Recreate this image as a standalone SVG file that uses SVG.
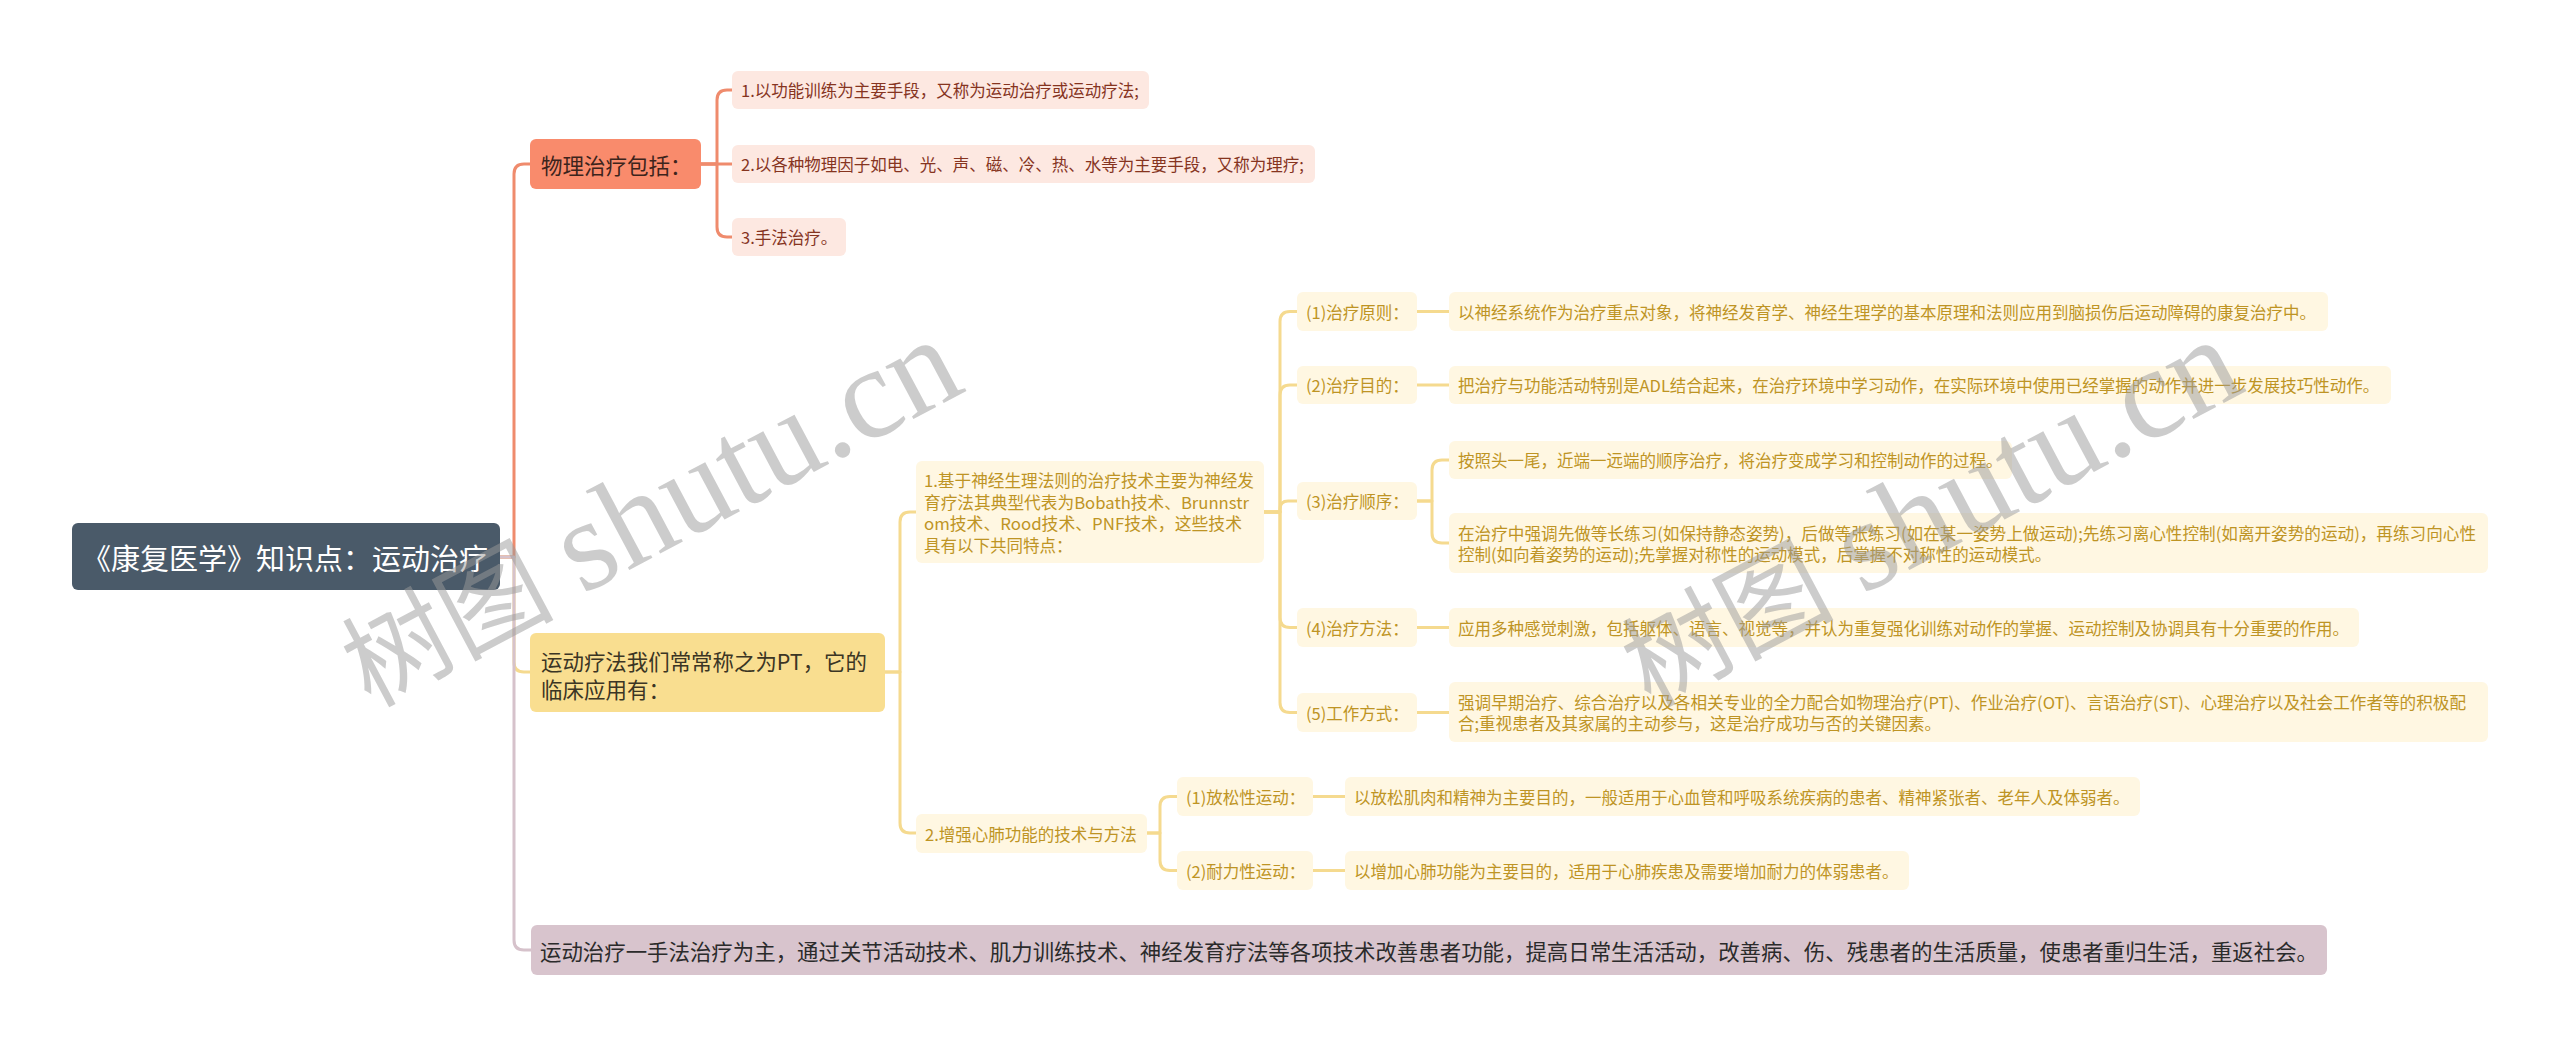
<svg xmlns="http://www.w3.org/2000/svg" width="2560" height="1046" viewBox="0 0 2560 1046">
<style>
text{font-family:"Noto Sans CJK SC","Noto Sans",sans-serif;dominant-baseline:central}
.root{fill:#4A5A69}
.rt{fill:#ffffff;font-size:29px}
.p1{fill:#F98B6C}
.p1t{fill:#3d241c;font-size:21.5px}
.o2{fill:#FDE8E1}
.o2t{fill:#86341F;font-size:16.5px}
.y1{fill:#F9DE90}
.y1t{fill:#3b3524;font-size:21.5px}
.y2{fill:#FFF7E2}
.y2t{fill:#BE9424;font-size:16.5px}
.m1{fill:#D8C4CD}
.m1t{fill:#2b2b2b;font-size:21.5px}
.c{fill:none;stroke-width:3;stroke-linecap:round;stroke-linejoin:round}
.co{stroke:#EF8B6D}
.cy{stroke:#F5DA8F}
.cm{stroke:#D6C2CB}
.wm{fill:#9a9a9a;fill-opacity:0.5;font-family:"Liberation Serif","Noto Sans CJK SC",serif;dominant-baseline:auto}
</style>
<rect width="2560" height="1046" fill="#ffffff"/>
<g id="connectors">
<path class="c cy" d="M500,557 H514 V662 Q514,672 524,672 H530"/>
<path class="c co" d="M500,557 H514 V174 Q514,164 524,164 H530"/>
<path class="c cm" d="M500,557 H514 V940 Q514,950 524,950 H531"/>
<path class="c co" d="M701,164 H732"/>
<path class="c co" d="M701,164 H717 V100 Q717,90 727,90 H732"/>
<path class="c co" d="M701,164 H717 V227 Q717,237 727,237 H732"/>
<path class="c cy" d="M885,672 H900 V522 Q900,512 910,512 H916"/>
<path class="c cy" d="M885,672 H900 V823 Q900,833 910,833 H916"/>
<path class="c cy" d="M1264,512 H1280 V321.5 Q1280,311.5 1290,311.5 H1297"/>
<path class="c cy" d="M1264,512 H1280 V395 Q1280,385 1290,385 H1297"/>
<path class="c cy" d="M1264,512 H1280 V509 Q1280,501 1288,501 H1297"/>
<path class="c cy" d="M1264,512 H1280 V617.5 Q1280,627.5 1290,627.5 H1297"/>
<path class="c cy" d="M1264,512 H1280 V702.5 Q1280,712.5 1290,712.5 H1297"/>
<path class="c cy" d="M1417,311.5 H1449"/>
<path class="c cy" d="M1417,385 H1449"/>
<path class="c cy" d="M1417,501 H1432 V470 Q1432,460 1442,460 H1449"/>
<path class="c cy" d="M1417,501 H1432 V533 Q1432,543 1442,543 H1449"/>
<path class="c cy" d="M1417,627.5 H1449"/>
<path class="c cy" d="M1417,712.5 H1449"/>
<path class="c cy" d="M1147,833 H1160 V806.5 Q1160,796.5 1170,796.5 H1177"/>
<path class="c cy" d="M1147,833 H1160 V860.5 Q1160,870.5 1170,870.5 H1177"/>
<path class="c cy" d="M1313,796.5 H1345"/>
<path class="c cy" d="M1313,870.5 H1345"/>
</g>
<g id="root"><rect class="root" x="72" y="523" width="428" height="67" rx="6"/><text class="rt" x="82" y="557">《康复医学》知识点：运动治疗</text></g>
<g id="n-physio"><rect class="p1" x="530" y="139" width="171" height="50" rx="6"/><text class="p1t" x="541" y="164">物理治疗包括：</text></g>
<g id="n-physio-1"><rect class="o2" x="732" y="71" width="417" height="38" rx="6"/><text class="o2t" x="741" y="90">1.以功能训练为主要手段，又称为运动治疗或运动疗法;</text></g>
<g id="n-physio-2"><rect class="o2" x="732" y="145" width="583" height="38" rx="6"/><text class="o2t" x="741" y="164">2.以各种物理因子如电、光、声、磁、冷、热、水等为主要手段，又称为理疗;</text></g>
<g id="n-physio-3"><rect class="o2" x="732" y="218" width="114" height="38" rx="6"/><text class="o2t" x="741" y="237">3.手法治疗。</text></g>
<g id="n-pt"><rect class="y1" x="530" y="633" width="355" height="79" rx="6"/><text class="y1t" x="541" y="660" textLength="326" lengthAdjust="spacingAndGlyphs">运动疗法我们常常称之为PT，它的</text><text class="y1t" x="541" y="688">临床应用有：</text></g>
<g id="n-neuro"><rect class="y2" x="916" y="461" width="348" height="102" rx="6"/>
<text class="y2t" x="924" y="480" textLength="330" lengthAdjust="spacingAndGlyphs">1.基于神经生理法则的治疗技术主要为神经发</text>
<text class="y2t" x="924" y="502" textLength="325" lengthAdjust="spacingAndGlyphs">育疗法其典型代表为Bobath技术、Brunnstr</text>
<text class="y2t" x="924" y="523" textLength="318" lengthAdjust="spacingAndGlyphs">om技术、Rood技术、PNF技术，这些技术</text>
<text class="y2t" x="924" y="545">具有以下共同特点：</text></g>
<g id="n-cardio"><rect class="y2" x="916" y="814" width="231" height="39" rx="6"/><text class="y2t" x="925" y="833.5">2.增强心肺功能的技术与方法</text></g>
<g id="n-l1"><rect class="y2" x="1297" y="292" width="120" height="39" rx="6"/><text class="y2t" x="1306" y="311.5">(1)治疗原则：</text></g>
<g id="n-l2"><rect class="y2" x="1297" y="366" width="120" height="38" rx="6"/><text class="y2t" x="1306" y="385">(2)治疗目的：</text></g>
<g id="n-l3"><rect class="y2" x="1297" y="482" width="120" height="38" rx="6"/><text class="y2t" x="1306" y="501">(3)治疗顺序：</text></g>
<g id="n-l4"><rect class="y2" x="1297" y="608" width="120" height="39" rx="6"/><text class="y2t" x="1306" y="627.5">(4)治疗方法：</text></g>
<g id="n-l5"><rect class="y2" x="1297" y="693" width="120" height="39" rx="6"/><text class="y2t" x="1306" y="712.5">(5)工作方式：</text></g>
<g id="n-f1"><rect class="y2" x="1449" y="292" width="879" height="39" rx="6"/><text class="y2t" x="1458" y="311.5">以神经系统作为治疗重点对象，将神经发育学、神经生理学的基本原理和法则应用到脑损伤后运动障碍的康复治疗中。</text></g>
<g id="n-f2"><rect class="y2" x="1449" y="366" width="942" height="38" rx="6"/><text class="y2t" x="1458" y="385">把治疗与功能活动特别是ADL结合起来，在治疗环境中学习动作，在实际环境中使用已经掌握的动作并进一步发展技巧性动作。</text></g>
<g id="n-f3a"><rect class="y2" x="1449" y="441" width="563" height="38" rx="6"/><text class="y2t" x="1458" y="460">按照头一尾，近端一远端的顺序治疗，将治疗变成学习和控制动作的过程。</text></g>
<g id="n-f3b"><rect class="y2" x="1449" y="513" width="1039" height="60" rx="6"/><text class="y2t" x="1458" y="533" textLength="1018" lengthAdjust="spacingAndGlyphs">在治疗中强调先做等长练习(如保持静态姿势)，后做等张练习(如在某一姿势上做运动);先练习离心性控制(如离开姿势的运动)，再练习向心性</text><text class="y2t" x="1458" y="554">控制(如向着姿势的运动);先掌握对称性的运动模式，后掌握不对称性的运动模式。</text></g>
<g id="n-f4"><rect class="y2" x="1449" y="608" width="910" height="39" rx="6"/><text class="y2t" x="1458" y="627.5">应用多种感觉刺激，包括躯体、语言、视觉等，并认为重复强化训练对动作的掌握、运动控制及协调具有十分重要的作用。</text></g>
<g id="n-f5"><rect class="y2" x="1449" y="682" width="1039" height="60" rx="6"/><text class="y2t" x="1458" y="702" textLength="1008" lengthAdjust="spacingAndGlyphs">强调早期治疗、综合治疗以及各相关专业的全力配合如物理治疗(PT)、作业治疗(OT)、言语治疗(ST)、心理治疗以及社会工作者等的积极配</text><text class="y2t" x="1458" y="723">合;重视患者及其家属的主动参与，这是治疗成功与否的关键因素。</text></g>
<g id="n-m1"><rect class="y2" x="1177" y="777" width="136" height="39" rx="6"/><text class="y2t" x="1186" y="796.5">(1)放松性运动：</text></g>
<g id="n-m2"><rect class="y2" x="1177" y="851" width="136" height="39" rx="6"/><text class="y2t" x="1186" y="870.5">(2)耐力性运动：</text></g>
<g id="n-g1"><rect class="y2" x="1345" y="777" width="795" height="39" rx="6"/><text class="y2t" x="1354" y="796.5">以放松肌肉和精神为主要目的，一般适用于心血管和呼吸系统疾病的患者、精神紧张者、老年人及体弱者。</text></g>
<g id="n-g2"><rect class="y2" x="1345" y="851" width="564" height="39" rx="6"/><text class="y2t" x="1354" y="870.5">以增加心肺功能为主要目的，适用于心肺疾患及需要增加耐力的体弱患者。</text></g>
<g id="n-summary"><rect class="m1" x="531" y="925" width="1796" height="50" rx="6"/><text class="m1t" x="540" y="950" textLength="1778" lengthAdjust="spacingAndGlyphs">运动治疗一手法治疗为主，通过关节活动技术、肌力训练技术、神经发育疗法等各项技术改善患者功能，提高日常生活活动，改善病、伤、残患者的生活质量，使患者重归生活，重返社会。</text></g>
<g id="watermark">
<text class="wm" transform="translate(370,708) rotate(-28)"><tspan font-size="106">树图</tspan><tspan font-size="130" dx="-4"> shutu.cn</tspan></text>
<text class="wm" transform="translate(1650,708) rotate(-28)"><tspan font-size="106">树图</tspan><tspan font-size="130" dx="-4"> shutu.cn</tspan></text>
</g>
</svg>
